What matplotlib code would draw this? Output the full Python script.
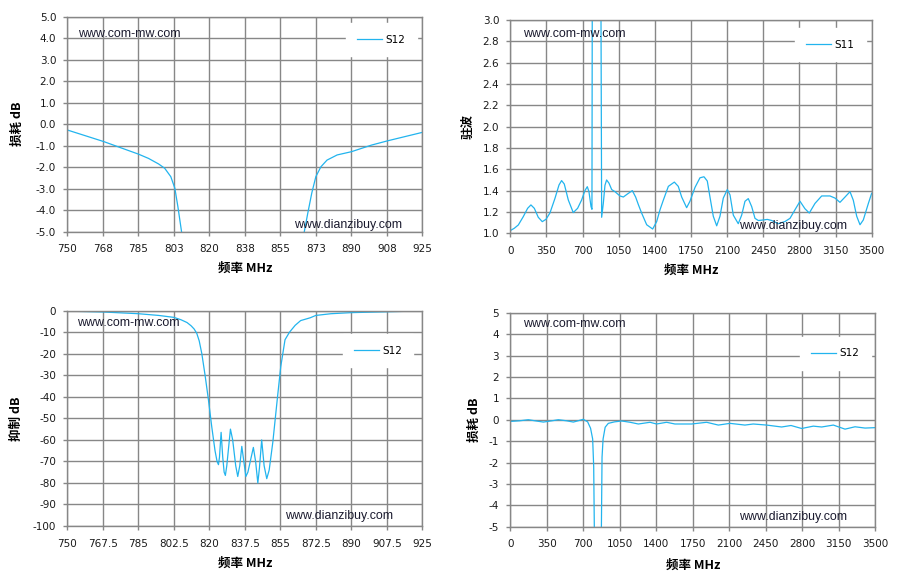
import matplotlib
matplotlib.use("Agg")
import matplotlib.pyplot as plt

plt.rcParams['font.family'] = ['DejaVu Sans', 'Noto Sans CJK SC']

# --- top-left: S12 close to the notch (loss, dB)
f_s12_narrow = [750, 768, 775, 785, 790, 795, 798, 801, 803, 804.5, 806.3, 808,
                837, 865.5, 866.8, 868.5, 870.5, 872.5, 875, 878, 883, 890, 900, 908, 925]
s12_narrow = [-0.27, -0.81, -1.05, -1.39, -1.59, -1.85, -2.05, -2.44, -2.98, -3.84, -5.0, -8.0,
              -60, -8.0, -5.0, -4.15, -3.2, -2.44, -1.98, -1.67, -1.43, -1.28, -0.97, -0.77, -0.38]

# --- top-right: S11 VSWR wideband
f_s11 = [0, 39, 78, 126, 168, 200, 233, 271, 310, 346, 384, 433, 472, 497, 523, 562, 610,
         652, 691, 723, 746, 762, 782, 791, 797, 835, 872, 885, 901, 917, 933, 956, 982,
         1014, 1062, 1095, 1137, 1182, 1214, 1240, 1272, 1321, 1379, 1418, 1450, 1482, 1531,
         1589, 1627, 1660, 1708, 1740, 1789, 1837, 1876, 1908, 1934, 1966, 1999, 2031, 2063,
         2102, 2128, 2160, 2208, 2241, 2273, 2305, 2338, 2370, 2402, 2451, 2489, 2531, 2596,
         2660, 2709, 2757, 2806, 2854, 2896, 2951, 3016, 3096, 3145, 3193, 3242, 3290, 3322,
         3355, 3387, 3419, 3468, 3500]
vswr = [1.025, 1.047, 1.078, 1.156, 1.234, 1.266, 1.234, 1.15, 1.109, 1.131, 1.19, 1.328,
        1.453, 1.494, 1.462, 1.312, 1.194, 1.234, 1.312, 1.40, 1.437, 1.39, 1.25, 1.225,
        5.0, 20.0, 5.0, 1.15, 1.28, 1.45, 1.50, 1.47, 1.41, 1.39, 1.35, 1.34, 1.37, 1.40,
        1.34, 1.27, 1.19, 1.08, 1.04, 1.11, 1.22, 1.31, 1.44, 1.48, 1.44, 1.34, 1.24, 1.30,
        1.43, 1.52, 1.53, 1.49, 1.34, 1.16, 1.07, 1.16, 1.33, 1.41, 1.36, 1.17, 1.09, 1.17,
        1.30, 1.325, 1.25, 1.14, 1.12, 1.125, 1.13, 1.12, 1.09, 1.11, 1.14, 1.22, 1.30, 1.23,
        1.19, 1.28, 1.35, 1.35, 1.33, 1.29, 1.34, 1.39, 1.31, 1.16, 1.08, 1.125, 1.28, 1.375]

# --- bottom-left: S12 rejection (dB)
f_rej = [750, 767.5, 785, 795, 802.5, 806, 809, 811, 812.5, 813.8, 815, 816.3, 817.9, 819.5,
         821.2, 822.8, 823.8, 824.5, 825.0, 825.8, 826.6, 827.3, 827.9, 828.6, 830.4, 831.5,
         833.0, 834.0, 835.0, 836.0, 837.0, 838.0, 839.0, 841.7, 842.8, 843.9, 844.7, 845.8,
         847.0, 848.3, 849.5, 851.3, 853.5, 855.2, 857.3, 859.5, 862.3, 865, 869.7, 872.5,
         880, 890, 907.5, 925]
rejection = [-0.2, -0.6, -1.4, -2.2, -3.1, -4.2, -5.5, -7.0, -8.5, -10.5, -14, -20, -30, -41,
             -54, -65, -70, -71.5, -68, -56.5, -68, -75, -76.5, -72, -55, -60,
             -72, -77, -72, -63, -70, -77, -75, -63.5, -70, -80, -73, -60,
             -72, -78, -74, -61, -41, -26, -13.5, -10, -6.8, -4.6, -3.3, -2.2,
             -1.4, -0.9, -0.5, -0.1]

# --- bottom-right: S12 wideband (loss, dB)
f_s12_wide = [0, 90, 173, 250, 317, 400, 461, 540, 605, 650, 700, 742, 770, 790, 800, 808, 840,
              872, 880, 890, 910, 940, 1000, 1068, 1150, 1228, 1340, 1403, 1499, 1579, 1739,
              1883, 1995, 2107, 2250, 2330, 2458, 2602, 2692, 2794, 2906, 2986, 3098, 3210,
              3306, 3402, 3500]
s12_wide = [-0.08, -0.05, 0.0, -0.06, -0.11, -0.05, 0.0, -0.05, -0.11, -0.05, 0.02, -0.1, -0.4,
            -0.9, -2.2, -6.0, -40, -6.0, -1.75, -0.9, -0.35, -0.17, -0.1, -0.06, -0.12, -0.2,
            -0.12, -0.2, -0.12, -0.2, -0.2, -0.12, -0.25, -0.17, -0.25, -0.2, -0.25, -0.34,
            -0.27, -0.41, -0.3, -0.34, -0.25, -0.44, -0.33, -0.39, -0.37]

x_ticks_narrow = [750 + 17.5 * i for i in range(11)]
x_labels_a = ['750', '768', '785', '803', '820', '838', '855', '873', '890', '908', '925']
x_labels_b = ['750', '767.5', '785', '802.5', '820', '837.5', '855', '872.5', '890', '907.5', '925']
x_ticks_wide = [350 * i for i in range(11)]
x_labels_wide = [str(v) for v in x_ticks_wide]

LINE = '#22B4EE'
GRID = '#878787'
CJK = ['Noto Sans CJK SC', 'DejaVu Sans']

fig = plt.figure(figsize=(8.99, 5.79), dpi=100)
fig.patch.set_facecolor('white')

ax1 = fig.add_axes([0.0749, 0.5998, 0.3949, 0.3714])
ax2 = fig.add_axes([0.5676, 0.5971, 0.4020, 0.3684])
ax3 = fig.add_axes([0.0749, 0.0915, 0.3949, 0.3719])
ax4 = fig.add_axes([0.5676, 0.0903, 0.4060, 0.3696])


def style(ax, xlim, ylim, xt, xl, yt, yl, ylabel, ylab_x, xlab_y):
    ax.set_xlim(xlim)
    ax.set_ylim(ylim)
    ax.set_xticks(xt)
    ax.set_xticklabels(xl)
    ax.set_yticks(yt)
    ax.set_yticklabels(yl)
    ax.grid(True, color=GRID, linewidth=1.0)
    ax.set_axisbelow(True)
    for s in ax.spines.values():
        s.set_color(GRID)
        s.set_linewidth(1.0)
    ax.tick_params(length=3, width=1.0, color=GRID, labelsize=7.5, labelcolor='#1a1a1a')
    ax.tick_params(axis='x', pad=6)
    ax.tick_params(axis='y', pad=5)
    ax.set_xlabel('频率 MHz', family=CJK, fontweight='bold', fontsize=9, va='center')
    ax.xaxis.set_label_coords(0.5, xlab_y)
    ax.set_ylabel(ylabel, family=CJK, fontweight='bold', fontsize=9, va='center')
    ax.yaxis.set_label_coords(ylab_x, 0.5)


def marks(ax, leg_xy, wm1, wm2):
    leg = ax.legend(loc='center', bbox_to_anchor=leg_xy, frameon=True, fancybox=False,
                    fontsize=7.5, handlelength=2.4, handletextpad=0.3, borderpad=1.1,
                    borderaxespad=0)
    leg.get_frame().set_facecolor('white')
    leg.get_frame().set_edgecolor('white')
    leg.get_frame().set_alpha(1)
    ax.text(wm1[0], wm1[1], 'www.com-mw.com', transform=ax.transAxes, family='Liberation Sans',
            fontsize=8.9, color='#1a1a2e', ha='left', va='center', zorder=5)
    ax.text(wm2[0], wm2[1], 'www.dianzibuy.com', transform=ax.transAxes, family='Liberation Sans',
            fontsize=8.9, color='#1a1a2e', ha='left', va='center', zorder=5)


ax1.plot(f_s12_narrow, s12_narrow, color=LINE, linewidth=0.9, label='S12')
style(ax1, (750, 925), (-5, 5), x_ticks_narrow, x_labels_a,
      [-5 + i for i in range(11)], ['%.1f' % (-5 + i) for i in range(11)],
      '损耗 dB', -0.142, -0.169)
marks(ax1, (0.884, 0.893), (0.03, 0.92), (0.639, 0.03))

ax2.plot(f_s11, vswr, color=LINE, linewidth=0.9, label='S11')
style(ax2, (0, 3500), (1.0, 3.0), x_ticks_wide, x_labels_wide,
      [1.0 + 0.2 * i for i in range(11)], ['%.1f' % (1.0 + 0.2 * i) for i in range(11)],
      '驻波', -0.116, -0.172)
marks(ax2, (0.885, 0.885), (0.036, 0.934), (0.634, 0.035))

ax3.plot(f_rej, rejection, color=LINE, linewidth=0.9, label='S12')
style(ax3, (750, 925), (-100, 0), x_ticks_narrow, x_labels_b,
      [-100 + 10 * i for i in range(11)], [str(-100 + 10 * i) for i in range(11)],
      '抑制 dB', -0.142, -0.173)
marks(ax3, (0.875, 0.815), (0.026, 0.941), (0.613, 0.045))

ax4.plot(f_s12_wide, s12_wide, color=LINE, linewidth=0.9, label='S12')
style(ax4, (0, 3500), (-5, 5), x_ticks_wide, x_labels_wide,
      [-5 + i for i in range(11)], [str(-5 + i) for i in range(11)],
      '损耗 dB', -0.0995, -0.179)
marks(ax4, (0.89, 0.81), (0.036, 0.946), (0.627, 0.047))

fig.savefig('out.png', dpi=100, facecolor='white')
